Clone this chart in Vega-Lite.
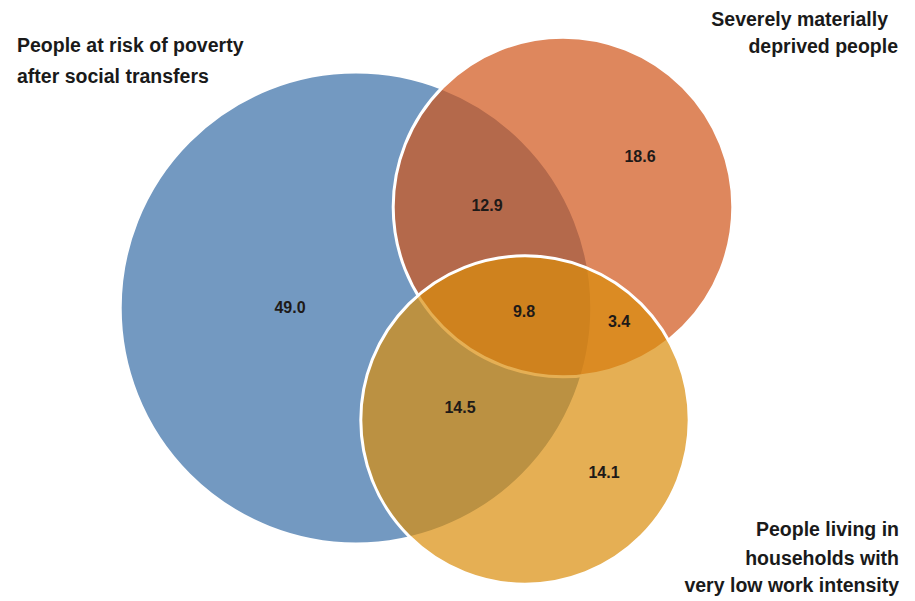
{
  "$schema": "https://vega.github.io/schema/vega-lite/v6.json",
  "width": 915,
  "height": 601,
  "padding": 0,
  "autosize": "none",
  "background": "white",
  "config": {"view": {"stroke": null}},
  "datasets": {
    "sets": [
      {"set": "People at risk of poverty after social transfers", "cx": 356, "cy": 308, "total": 86.2},
      {"set": "Severely materially deprived people", "cx": 563, "cy": 207, "total": 44.7},
      {"set": "People living in households with very low work intensity", "cx": 525, "cy": 420, "total": 41.8}
    ],
    "regions": [
      {"value": 49.0, "x": 290, "y": 308},
      {"value": 12.9, "x": 487, "y": 206},
      {"value": 18.6, "x": 640, "y": 157},
      {"value": 9.8, "x": 524, "y": 312},
      {"value": 3.4, "x": 619, "y": 322},
      {"value": 14.5, "x": 460, "y": 408},
      {"value": 14.1, "x": 604, "y": 473}
    ],
    "labels": [
      {"line": "People at risk of poverty", "x": 17, "y": 52, "side": "left"},
      {"line": "after social transfers", "x": 17, "y": 83, "side": "left"},
      {"line": "Severely materially", "x": 888, "y": 26, "side": "right"},
      {"line": "deprived people", "x": 898, "y": 53, "side": "right"},
      {"line": "People living in", "x": 899, "y": 536, "side": "right"},
      {"line": "households with", "x": 899, "y": 565, "side": "right"},
      {"line": "very low work intensity", "x": 899, "y": 592, "side": "right"}
    ]
  },
  "layer": [
    {
      "data": {"name": "sets"},
      "mark": {"type": "point", "shape": "circle", "filled": true, "fillOpacity": 0.7, "stroke": "white", "strokeWidth": 3, "strokeOpacity": 1},
      "encoding": {
        "x": {"field": "cx", "type": "quantitative", "scale": {"domain": [0, 915]}, "axis": null},
        "y": {"field": "cy", "type": "quantitative", "scale": {"domain": [0, 601], "reverse": true}, "axis": null},
        "size": {"field": "total", "type": "quantitative", "scale": {"domain": [0, 100], "range": [0, 258000]}, "legend": null},
        "color": {"field": "set", "type": "nominal", "scale": {"domain": ["People at risk of poverty after social transfers", "Severely materially deprived people", "People living in households with very low work intensity"], "range": ["#386da6", "#d05418", "#da8d0c"]}, "legend": null}
      }
    },
    {
      "data": {"name": "regions"},
      "mark": {"type": "text", "font": "Liberation Sans", "fontWeight": "bold", "fontSize": 16, "color": "#1e1a18", "align": "center", "baseline": "middle"},
      "encoding": {
        "x": {"field": "x", "type": "quantitative", "scale": {"domain": [0, 915]}, "axis": null},
        "y": {"field": "y", "type": "quantitative", "scale": {"domain": [0, 601], "reverse": true}, "axis": null},
        "text": {"field": "value", "type": "quantitative", "format": ".1f"}
      }
    },
    {
      "data": {"name": "labels"},
      "transform": [{"filter": "datum.side === 'left'"}],
      "mark": {"type": "text", "font": "Liberation Sans", "fontWeight": "bold", "fontSize": 19.5, "color": "#1a1a1a", "align": "left", "baseline": "alphabetic"},
      "encoding": {
        "x": {"field": "x", "type": "quantitative", "scale": {"domain": [0, 915]}, "axis": null},
        "y": {"field": "y", "type": "quantitative", "scale": {"domain": [0, 601], "reverse": true}, "axis": null},
        "text": {"field": "line", "type": "nominal"}
      }
    },
    {
      "data": {"name": "labels"},
      "transform": [{"filter": "datum.side === 'right'"}],
      "mark": {"type": "text", "font": "Liberation Sans", "fontWeight": "bold", "fontSize": 19.5, "color": "#1a1a1a", "align": "right", "baseline": "alphabetic"},
      "encoding": {
        "x": {"field": "x", "type": "quantitative", "scale": {"domain": [0, 915]}, "axis": null},
        "y": {"field": "y", "type": "quantitative", "scale": {"domain": [0, 601], "reverse": true}, "axis": null},
        "text": {"field": "line", "type": "nominal"}
      }
    }
  ]
}
